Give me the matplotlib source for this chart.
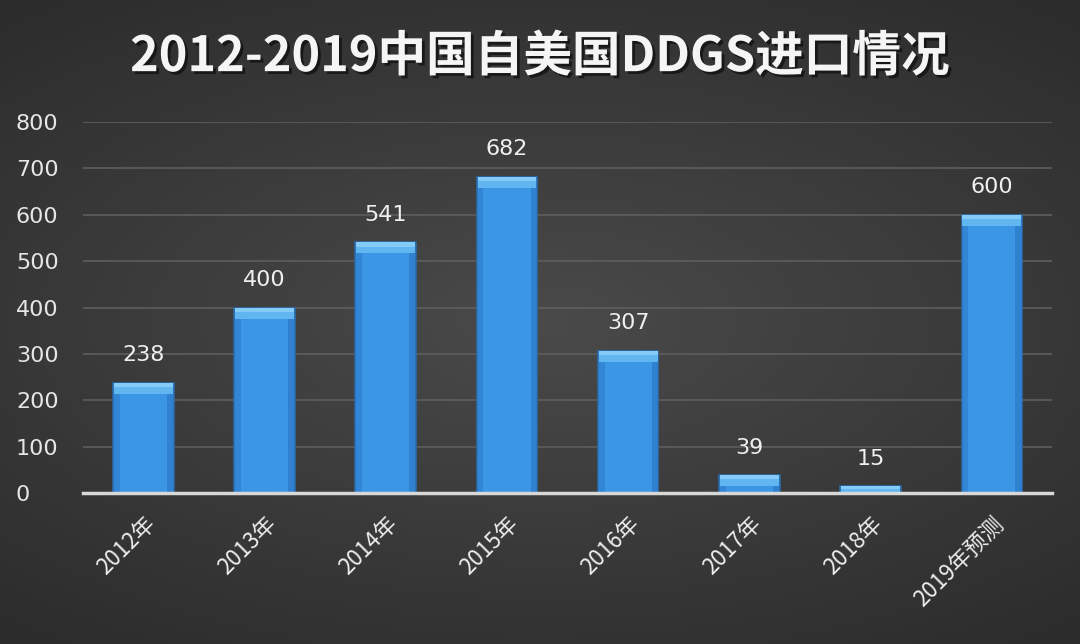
import numpy as np
import matplotlib
matplotlib.use("Agg")
import matplotlib.pyplot as plt
import matplotlib.patheffects as pe

plt.rcParams['font.family'] = ['Noto Sans CJK SC', 'DejaVu Sans']

# data
categories = ['2012年', '2013年', '2014年', '2015年', '2016年', '2017年', '2018年', '2019年预测']
values = [238, 400, 541, 682, 307, 39, 15, 600]
yticks = [0, 100, 200, 300, 400, 500, 600, 700, 800]
title = '2012-2019中国自美国DDGS进口情况'

fig = plt.figure(figsize=(10.8, 6.44), dpi=100)
fig.patch.set_facecolor('#333333')

# radial gradient background
bg = fig.add_axes([0, 0, 1, 1], zorder=-10)
yy, xx = np.mgrid[-1:1:300j, -1:1:500j]
r = np.sqrt((xx * 0.9) ** 2 + (yy * 1.1) ** 2)
bg.imshow(r, cmap=matplotlib.colors.LinearSegmentedColormap.from_list('bgc', ['#4a4a4a', '#2c2c2c']),
          extent=[0, 1, 0, 1], aspect='auto', vmin=0, vmax=1.4)
bg.axis('off')

ax = fig.add_axes([0.0765, 0.2345, 0.898, 0.576])
ax.set_facecolor('none')

x = np.arange(len(categories))
bw = 0.5
ax.bar(x, values, width=bw, color='#3c96e6', edgecolor='#2a6aa8', linewidth=1.2, zorder=3)
# lighter bevel on top of each bar
bevel = [min(v, 24) for v in values]
ax.bar(x, bevel, width=bw * 0.97, bottom=[v - b for v, b in zip(values, bevel)],
       color='#62b6f0', linewidth=0, zorder=4)
ax.bar(x, [b * 0.4 for b in bevel], width=bw * 0.97,
       bottom=[v - b * 0.4 for v, b in zip(values, bevel)],
       color='#84cbf7', linewidth=0, zorder=4.5)
# darker side shading
ax.bar(x + bw * 0.44, values, width=bw * 0.1, color='#2d7ccb', linewidth=0, zorder=3.5, alpha=0.8)
ax.bar(x - bw * 0.44, values, width=bw * 0.1, color='#2d7ccb', linewidth=0, zorder=3.5, alpha=0.6)

for xi, v in zip(x, values):
    ax.text(xi, v + 46, str(v), ha='center', va='baseline', fontsize=16, color='#f0f0f0',
            family=['DejaVu Sans'])

ax.set_xlim(-0.5, len(categories) - 0.5)
ax.set_ylim(0, 800)
ax.set_yticks(yticks)
ax.set_yticklabels([str(t) for t in yticks], fontsize=16, color='#e6e6e6', family=['DejaVu Sans'])
ax.set_xticks(x)
ax.set_xticklabels(categories, rotation=45, ha='right', rotation_mode='anchor',
                   fontsize=16, color='#eeeeee')
ax.tick_params(axis='both', length=0)
ax.tick_params(axis='y', pad=48)
ax.tick_params(axis='x', pad=14)
for lbl in ax.get_yticklabels():
    lbl.set_horizontalalignment('left')

ax.grid(axis='y', color='#5e5e5e', linewidth=1.2, zorder=0)
ax.set_axisbelow(True)
for s in ['top', 'right', 'left']:
    ax.spines[s].set_visible(False)
ax.spines['bottom'].set_color('#d8d8d8')
ax.spines['bottom'].set_linewidth(2.5)
ax.spines['bottom'].set_zorder(5)

fig.text(0.5, 0.912, title, ha='center', va='center', fontsize=35, fontweight='bold',
         color='#f5f5f5',
         path_effects=[pe.withSimplePatchShadow(offset=(2, -2), shadow_rgbFace='#111111', alpha=0.8)])

fig.savefig('out.png', dpi=100, facecolor=fig.get_facecolor())
